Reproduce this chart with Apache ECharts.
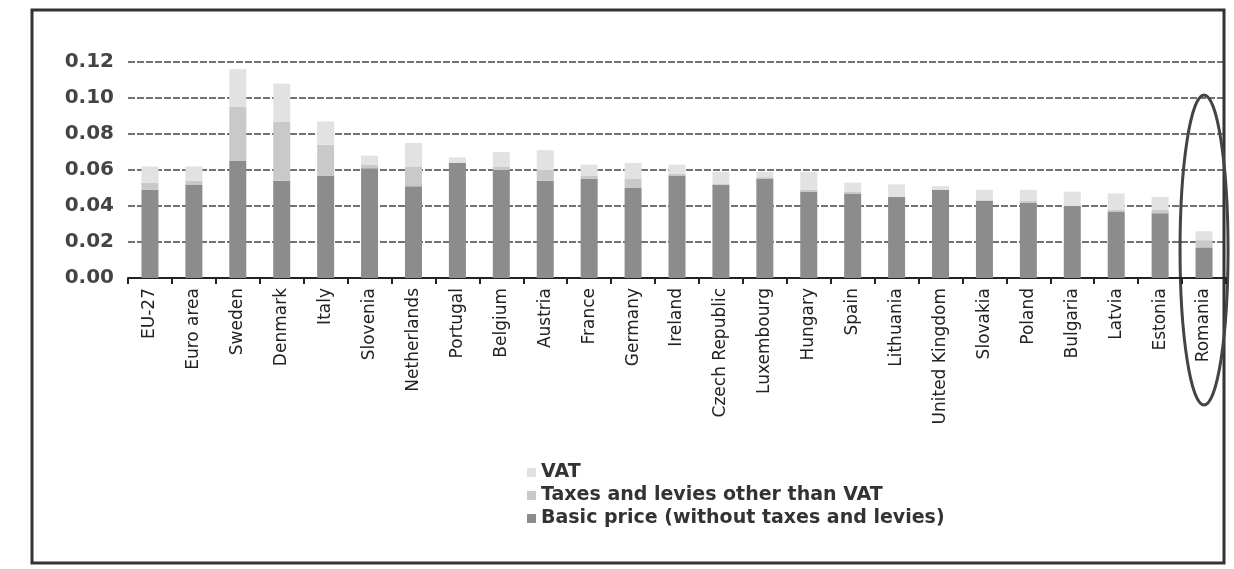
<!DOCTYPE html>
<html>
<head>
<meta charset="utf-8">
<script src="https://cdn.jsdelivr.net/npm/echarts@6/dist/echarts.min.js"></script>
<style>
html,body{margin:0;padding:0;background:#fff;}
#chart{width:1234px;height:569px;}
</style>
</head>
<body>
<div id="chart"></div>
<script>
const categories = ["EU-27","Euro area","Sweden","Denmark","Italy","Slovenia","Netherlands","Portugal","Belgium","Austria","France","Germany","Ireland","Czech Republic","Luxembourg","Hungary","Spain","Lithuania","United Kingdom","Slovakia","Poland","Bulgaria","Latvia","Estonia","Romania"];
const basicPrice = [0.049,0.052,0.065,0.054,0.057,0.061,0.051,0.064,0.060,0.054,0.055,0.050,0.057,0.052,0.055,0.048,0.047,0.045,0.049,0.043,0.042,0.040,0.037,0.036,0.017];
const otherTaxes = [0.004,0.002,0.030,0.033,0.017,0.002,0.011,0.000,0.002,0.006,0.002,0.005,0.001,0.000,0.001,0.001,0.001,0.000,0.000,0.000,0.001,0.000,0.001,0.002,0.004];
const vat        = [0.009,0.008,0.021,0.021,0.013,0.005,0.013,0.003,0.008,0.011,0.006,0.009,0.005,0.007,0.003,0.010,0.005,0.007,0.002,0.006,0.006,0.008,0.009,0.007,0.005];
const yTicks = {min:0, max:0.12, interval:0.02};
const legendNames = ["VAT","Taxes and levies other than VAT","Basic price (without taxes and levies)"];

const chart = echarts.init(document.getElementById('chart'), null, {renderer:'canvas'});
const font = '"DejaVu Sans", Verdana, sans-serif';
const option = {
  animation:false,
  backgroundColor:'#fff',
  grid:{left:128, right:8, top:62, bottom:291},
  legend:{
    data:legendNames,
    orient:'vertical', left:522, top:458,
    itemWidth:9, itemHeight:9, itemGap:4,
    icon:'rect',
    textStyle:{fontFamily:font, fontSize:19, fontWeight:'bold', color:'#333'}
  },
  xAxis:{
    type:'category', data:categories,
    axisLine:{lineStyle:{color:'#222', width:2}},
    axisTick:{show:true, alignWithLabel:false, length:6, lineStyle:{color:'#222', width:2}},
    axisLabel:{rotate:90, interval:0, fontFamily:font, fontSize:17, color:'#222', margin:10}
  },
  yAxis:{
    type:'value', min:yTicks.min, max:yTicks.max, interval:yTicks.interval,
    axisLine:{show:false}, axisTick:{show:false},
    axisLabel:{formatter:v=>v.toFixed(2), fontFamily:font, fontSize:20, fontWeight:'bold', color:'#444', margin:14},
    splitLine:{lineStyle:{color:'#444', width:1.5, type:[7,2]}}
  },
  series:[
    {name:legendNames[2], type:'bar', stack:'p', data:basicPrice, barWidth:17, itemStyle:{color:'#8c8c8c'}},
    {name:legendNames[1], type:'bar', stack:'p', data:otherTaxes, barWidth:17, itemStyle:{color:'#c9c9c9'}},
    {name:legendNames[0], type:'bar', stack:'p', data:vat, barWidth:17, itemStyle:{color:'#e2e2e2'}}
  ]
};
chart.setOption(option);

// annotation ellipse around the last category, positioned through the axis scale
const lastX = chart.convertToPixel({xAxisIndex:0}, categories[categories.length-1]);
chart.setOption({
  graphic:[
    {type:'rect', shape:{x:32, y:10, width:1192, height:553}, style:{fill:'none', stroke:'#333', lineWidth:3}, silent:true},
    {type:'ellipse', shape:{cx:lastX, cy:250, rx:24, ry:155}, style:{fill:'none', stroke:'#444', lineWidth:3}, silent:true}
  ]
});
</script>
</body>
</html>
